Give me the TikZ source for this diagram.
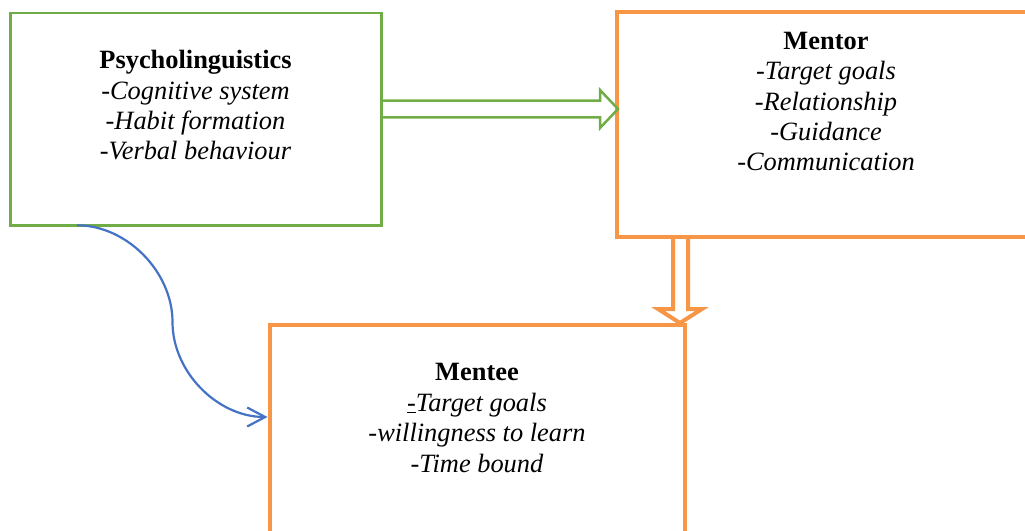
\documentclass[tikz,border=0pt]{standalone}
\usepackage{fontspec}
\setmainfont{Liberation Serif}
\usetikzlibrary{arrows.meta,calc}
\definecolor{boxgreen}{HTML}{70AD47}
\definecolor{boxorange}{HTML}{F79646}
\definecolor{linkblue}{HTML}{4472C4}
\begin{document}
\begin{tikzpicture}[x=1bp,y=-1bp,
  panel/.style={rectangle,inner sep=0pt,outer sep=0pt,anchor=north west},
  greenbox/.style={panel,draw=boxgreen,line width=2.5bp},
  orangebox/.style={panel,draw=boxorange,line width=4bp},
  boxtext/.style={align=center,anchor=base,inner sep=0pt,
    font=\fontsize{26.5}{30.5}\selectfont},
  greenarrow/.style={draw=boxgreen,line width=2.5bp,line join=miter},
  orangearrow/.style={draw=boxorange,line width=4bp,line join=miter},
  link/.style={draw=linkblue,line width=2.2bp,
    -{Straight Barb[length=18bp,width=19bp,line width=2.2bp]}}]
\useasboundingbox (0,0) rectangle (1025,531);
\clip (0,0) rectangle (1025,531);

% the three boxes
\node[greenbox,minimum width=370.8bp,minimum height=212.5bp] (psy) at (10.5,12.8) {};
\node[orangebox,minimum width=430bp,minimum height=225bp] (mentor) at (617,12) {};
\node[orangebox,minimum width=415.5bp,minimum height=240bp] (mentee) at (269.5,325.5) {};

% box contents (base anchor = baseline of the last line)
\node[boxtext] (psytext) at (195.5,160) {\textbf{Psycholinguistics}\\
  \textit{-Cognitive system}\\ \textit{-Habit formation}\\ \textit{-Verbal behaviour}};
\node[boxtext] (mentortext) at (826,171) {\textbf{Mentor}\\
  \textit{-Target goals}\\ \textit{-Relationship}\\ \textit{-Guidance}\\ \textit{-Communication}};
\node[boxtext] (menteetext) at (477,472) {\textbf{Mentee}\\
  \textit{\underline{-}Target goals}\\ \textit{-willingness to learn}\\ \textit{-Time bound}};

% block arrow: psycholinguistics -> mentor
\draw[greenarrow] ($(psy.north east)+(0,87.9)$) -- ++(218.7,0) -- ++(0,-10.7)
  -- ++(18,19) -- ++(-18,19) -- ++(0,-10.7) -- ++(-218.7,0) -- cycle;

% block arrow: mentor -> mentee
\draw[orangearrow] ($(mentor.south west)+(56,0)$) -- ++(0,72) -- ++(-15,0)
  -- ++(22,14) -- ++(22,-14) -- ++(-14,0) -- ++(0,-72);

% curved link: psycholinguistics -> mentee
\coordinate (linkstart) at ($(psy.south west)+(66.5,0)$);
\coordinate (bend) at (172.5,322);
\coordinate (linkend) at ($(mentee.north west)+(-2,91.5)$);
\draw[link] (linkstart) .. controls +(50,0) and +(0,-50) .. (bend)
  .. controls +(0,50) and +(-50,0) .. (linkend);
\end{tikzpicture}
\end{document}
